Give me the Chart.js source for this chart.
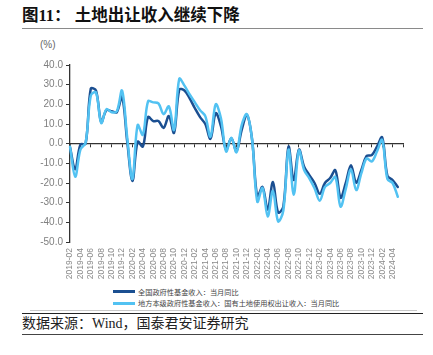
<!DOCTYPE html>
<html><head><meta charset="utf-8">
<script src="https://cdn.jsdelivr.net/npm/chart.js@4.4.1/dist/chart.umd.min.js"></script>
<style>
html,body{margin:0;padding:0;background:#fff;}
body{width:433px;height:355px;position:relative;overflow:hidden;font-family:"Liberation Sans","Noto Sans CJK SC",sans-serif;}
#title{position:absolute;left:22px;top:6px;font-weight:bold;font-size:16.5px;font-family:"Liberation Serif","Noto Sans CJK SC",serif;color:#111;white-space:nowrap;line-height:20px;}
#tline{position:absolute;left:22px;top:28px;width:401px;height:0;border-top:1.5px solid #8a8a8a;}
#unit{position:absolute;left:40px;top:39px;font-size:10px;color:#666;line-height:12px;}
#wrap{position:absolute;left:0;top:35px;width:433px;height:250px;}
#legend{position:absolute;left:113px;top:0;}
.li{position:absolute;left:0;height:10px;display:flex;align-items:center;white-space:nowrap;font-size:7.2px;font-family:"Noto Sans CJK SC",sans-serif;color:#444;}
.sw{display:inline-block;width:22px;height:2.5px;margin-right:3px;}
.hl{position:absolute;height:0;}
#src{position:absolute;left:22px;top:315px;font-size:14px;line-height:17px;font-family:"Liberation Serif","Noto Sans CJK SC",serif;color:#222;white-space:nowrap;}
</style></head>
<body>
<div id="title">图11：&nbsp;土地出让收入继续下降</div>
<div id="tline"></div>
<div id="unit">(%)</div>
<div id="wrap"><canvas id="c" width="433" height="250"></canvas></div>
<div id="legend"></div>
<div class="hl" style="left:30px;top:310px;width:387px;border-top:1px solid #c8c8c8;"></div>
<div class="hl" style="left:22px;top:312.5px;width:401px;border-top:1.5px solid #222;"></div>
<div id="src">数据来源：Wind，国泰君安证券研究</div>
<div class="hl" style="left:22px;top:333.5px;width:401px;border-top:1px solid #444;"></div>
<script>
// categories (monthly); the last category only extends the axis
const months = [
 "2019-02","2019-03","2019-04","2019-05","2019-06","2019-07","2019-08","2019-09","2019-10","2019-11","2019-12",
 "2020-01","2020-02","2020-03","2020-04","2020-05","2020-06","2020-07","2020-08","2020-09","2020-10","2020-11","2020-12",
 "2021-01","2021-02","2021-03","2021-04","2021-05","2021-06","2021-07","2021-08","2021-09","2021-10","2021-11","2021-12",
 "2022-01","2022-02","2022-03","2022-04","2022-05","2022-06","2022-07","2022-08","2022-09","2022-10","2022-11","2022-12",
 "2023-01","2023-02","2023-03","2023-04","2023-05","2023-06","2023-07","2023-08","2023-09","2023-10","2023-11","2023-12",
 "2024-01","2024-02","2024-03","2024-04","2024-05","2024-06"
];
const lastLabel = "2024-04";
const seriesNames = ["全国政府性基金收入：当月同比","地方本级政府性基金收入：国有土地使用权出让收入：当月同比"];
const seriesColors = ["#1b4f91","#52c2f2"];
// 全国政府性基金收入：当月同比 (%)
const nationalFund = [
 -1.8,-13,-0.5,0,28,27,11,17,16.5,16,24,
 1,-19,1,-1.5,13.5,11.5,11.5,8,14,5.5,27.5,27,
 23,18,13.5,10,2.5,15.5,9,-3,2.7,-3.7,7,14.6,
 2,-27,-22,-33.5,-19.5,-35,-32,-1.5,-18.5,-3,-11.7,-16,
 -20,-25.5,-20,-17.5,-13.5,-27.5,-20,-11,-19.8,-13.4,-6.3,-5.8,
 -1.5,3.2,-16.4,-18.5,-22
];
// 地方本级政府性基金收入：国有土地使用权出让收入：当月同比 (%)
const landSale = [
 -1.5,-16.8,-3,0.5,24.5,26,10.5,17.5,16,16.5,27,
 3,-18,9.5,4.5,21.5,21,20.5,15,19,7,33,29.5,
 25,21,17,14,3.5,20,13,-4,3,-4.4,9.5,15,
 2,-29.5,-22.5,-37,-24,-39.5,-34,-3,-26,-3.5,-13.4,-17.6,
 -22.7,-29,-22,-20,-17,-32,-23,-13,-23.6,-15,-7.5,-9.1,
 -4,1.9,-18,-20,-27
];
const yMin = -50, yMax = 40, yStep = 10;

// legend (HTML)
const lg = document.getElementById('legend');
const legendY = [286.5, 298.3];
seriesNames.forEach((n,i)=>{
  const d = document.createElement('div');
  d.className='li'; d.style.top = legendY[i]+'px';
  const s = document.createElement('span'); s.className='sw'; s.style.background=seriesColors[i];
  d.appendChild(s); d.appendChild(document.createTextNode(n));
  lg.appendChild(d);
});

const axisColor = '#333333';
const lastIdx = months.indexOf(lastLabel);
new Chart(document.getElementById('c'), {
  type:'line',
  data:{labels:months, datasets:[
    {label:seriesNames[0], data:nationalFund, borderColor:seriesColors[0], backgroundColor:seriesColors[0], borderWidth:2.5, pointRadius:0, tension:0.35, order:1, xAxisID:'x', yAxisID:'y', borderJoinStyle:'round', borderCapStyle:'round'},
    {label:seriesNames[1], data:landSale, borderColor:seriesColors[1], backgroundColor:seriesColors[1], borderWidth:2.5, pointRadius:0, tension:0.35, order:0, xAxisID:'x', yAxisID:'y', borderJoinStyle:'round', borderCapStyle:'round'}
  ]},
  options:{
    responsive:false, animation:false, devicePixelRatio:1,
    layout:{padding:{top:30,right:30,left:0,bottom:0}},
    plugins:{legend:{display:false}, tooltip:{enabled:false}},
    scales:{
      x:{type:'category', position:{y:0}, offset:false,
         ticks:{display:false, autoSkip:false},
         grid:{display:true, drawOnChartArea:false, drawTicks:true, tickLength:3, lineWidth:1,
               color:(c)=> c.index%2===0 ? axisColor : 'rgba(0,0,0,0)'},
         border:{display:true, color:axisColor, width:1.3},
         afterFit:(s)=>{s.height=0;}},
      x2:{type:'category', position:'bottom', display:true, offset:false,
         grid:{display:false, drawTicks:false}, border:{display:false},
         ticks:{autoSkip:false, minRotation:90, maxRotation:90, padding:6, color:'#8a8a8a',
                font:{size:8.5, family:'Liberation Sans'},
                callback:(v,i)=> (i%2===0 && i<=lastIdx) ? months[i] : ''},
         afterFit:(s)=>{s.height=43;}},
      y:{min:yMin, max:yMax,
         ticks:{stepSize:yStep, callback:(v)=>v.toFixed(1), color:'#7f7f7f', font:{size:10, family:'Liberation Sans'}, padding:3},
         grid:{drawOnChartArea:false, drawTicks:true, tickLength:4, color:axisColor, lineWidth:1},
         border:{display:true, color:axisColor, width:1.3},
         afterFit:(s)=>{s.width=70;}}
    }
  }
});
</script>
</body></html>
